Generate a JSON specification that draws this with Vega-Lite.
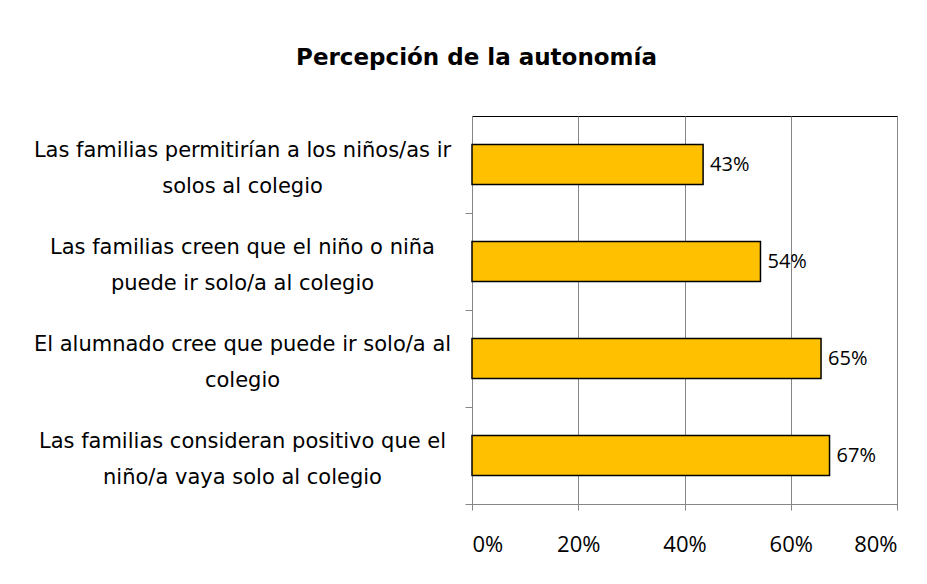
{
  "$schema": "https://vega.github.io/schema/vega-lite/v6.json",
  "width": 425,
  "height": 388,
  "autosize": {"type": "none"},
  "padding": {"left": 472, "top": 116, "right": 30, "bottom": 80},
  "background": "white",
  "title": {
    "text": "Percepción de la autonomía",
    "font": "DejaVu Sans",
    "fontSize": 23,
    "fontWeight": "bold",
    "color": "#000000",
    "anchor": "middle",
    "dx": -208,
    "offset": 46
  },
  "data": {
    "values": [
      {"key": "a", "value": 0.435, "label": "43%"},
      {"key": "b", "value": 0.543, "label": "54%"},
      {"key": "c", "value": 0.657, "label": "65%"},
      {"key": "d", "value": 0.673, "label": "67%"}
    ]
  },
  "encoding": {
    "y": {
      "field": "key",
      "type": "nominal",
      "sort": null,
      "title": null,
      "scale": {"paddingInner": 0.59, "paddingOuter": 0.295},
      "axis": {
        "labelExpr": "datum.value == 'a' ? ['Las familias permitirían a los niños/as ir', 'solos al colegio'] : datum.value == 'b' ? ['Las familias creen que el niño o niña', 'puede ir solo/a al colegio'] : datum.value == 'c' ? ['El alumnado cree que puede  ir solo/a al', 'colegio'] : datum.value == 'd' ? ['Las familias consideran positivo que el', 'niño/a vaya solo al colegio'] : ''",
        "labelAlign": "center",
        "labelBaseline": "middle",
        "labelPadding": 223,
        "tickOffset": 48.5,
        "labelOffset": -62.5,
        "labelLineHeight": 36,
        "labelFont": "DejaVu Sans",
        "labelFontSize": 21,
        "labelColor": "#000000",
        "labelLimit": 500,
        "tickSize": 7,
        "tickColor": "#868686",
        "domainColor": "#868686",
        "grid": false
      }
    }
  },
  "layer": [
    {
      "mark": {"type": "bar", "fill": "#FFC000", "stroke": "#000000", "strokeWidth": 1.5},
      "encoding": {
        "x": {
          "field": "value",
          "type": "quantitative",
          "title": null,
          "scale": {"domain": [0, 0.8], "nice": false},
          "axis": {
            "format": ".0%",
            "values": [0, 0.2, 0.4, 0.6, 0.8],
            "labelFont": "Open Sans",
            "labelFontSize": 22,
            "labelColor": "#000000",
            "labelPadding": 24,
            "tickSize": 6,
            "tickColor": "#868686",
            "domainColor": "#868686",
            "gridColor": "#868686",
            "gridWidth": 1
          }
        }
      }
    },
    {
      "mark": {"type": "text", "align": "left", "dx": 7, "font": "Open Sans", "fontSize": 20, "color": "#000000"},
      "encoding": {
        "x": {"field": "value", "type": "quantitative"},
        "text": {"field": "label"}
      }
    }
  ],
  "config": {
    "view": {"stroke": "#000000", "strokeWidth": 1}
  }
}
